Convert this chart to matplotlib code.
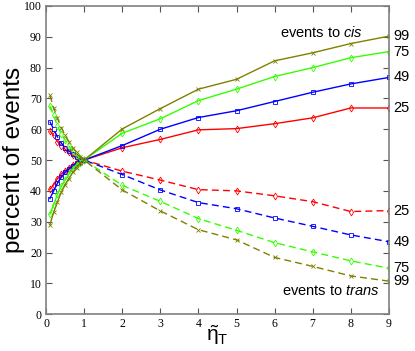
import matplotlib
matplotlib.use("Agg")
import matplotlib.pyplot as plt

plt.rcParams["mathtext.fontset"] = "custom"
plt.rcParams["mathtext.rm"] = "Liberation Sans"
plt.rcParams["mathtext.it"] = "Liberation Sans:italic"
plt.rcParams["mathtext.sf"] = "Liberation Sans"

# x positions: fine steps up to 1, then integers
eta = [0.1, 0.2, 0.3, 0.4, 0.5, 0.6, 0.7, 0.8, 0.9, 1.0, 2, 3, 4, 5, 6, 7, 8, 9]

# events to cis (solid)
cis_25 = [40.5, 42, 44, 45.5, 46.5, 47.5, 48.5, 49, 49.5, 50, 54, 56.7, 59.8, 60.2, 61.8, 63.7, 66.9, 66.9]
cis_49 = [37.5, 40, 42.5, 44.5, 46, 47, 48, 49, 49.5, 50, 54.7, 60, 63.8, 66, 69, 72, 74.7, 76.8]
cis_75 = [32.5, 35.5, 39, 41.5, 43.5, 45.5, 47, 48.5, 49.2, 50, 58.7, 63.4, 69.3, 73, 77.1, 80, 83.2, 85.2]
cis_99 = [29, 33, 36.5, 39.5, 42, 44, 46, 47.5, 49, 50, 60.1, 66.7, 73, 76.2, 82.2, 84.8, 87.8, 90.2]

# events to trans (dashed)
trans_25 = [59.5, 58, 56, 54.5, 53.5, 52.5, 51.5, 51, 50.5, 50, 46.4, 43.5, 40.4, 40, 38.4, 36.5, 33.3, 33.6]
trans_49 = [62.5, 60, 57.5, 55.5, 54, 53, 52, 51, 50.5, 50, 45.3, 40.3, 36.2, 34.2, 31.2, 28.5, 25.7, 23.5]
trans_75 = [67.5, 64.5, 61, 58.5, 56.5, 54.5, 53, 51.5, 50.8, 50, 41.8, 36.6, 31, 27.2, 23.2, 20.2, 17.3, 14.9]
trans_99 = [71, 67, 63.5, 60.5, 58, 56, 54, 52.5, 51, 50, 40.3, 33.5, 27.4, 24.1, 18.4, 15.5, 12.4, 10.7]

labels = ["25", "49", "75", "99"]
colors = ["#ff0000", "#0000ff", "#33ff00", "#808000"]
markers = ["d", "s", "d", "x"]

fig = plt.figure(figsize=(4.15, 3.51), dpi=100)
ax = fig.add_axes([0.111, 0.105, 0.826, 0.878])

for ys, c, m in zip([cis_25, cis_49, cis_75, cis_99], colors, markers):
    ax.plot(eta, ys, color=c, lw=1.0, marker=m, ms=3.5, mfc="none", mew=0.6)
for ys, c, m in zip([trans_25, trans_49, trans_75, trans_99], colors, markers):
    ax.plot(eta, ys, color=c, lw=1.0, ls=(0, (5, 3)), marker=m, ms=3.5, mfc="none", mew=0.6)

ax.set_xlim(0, 9)
ax.set_ylim(0, 100)
ax.set_xticks(range(10))
ax.set_yticks(range(0, 101, 10))
ax.tick_params(direction="in", length=4, width=0.8, color="#555555",
               top=True, right=True, labelsize=8.5, pad=3)
for lab in ax.get_xticklabels() + ax.get_yticklabels():
    lab.set_family("Liberation Serif")
for sp in ax.spines.values():
    sp.set_color("#808080")
    sp.set_linewidth(1.2)

ax.set_ylabel("percent of events", family="Liberation Sans", fontsize=17.5)
ax.yaxis.set_label_coords(-0.061, 0.5)
ax.set_xlabel(r"$\tilde{\mathrm{\eta}}_\mathrm{T}$", fontsize=15)
ax.xaxis.set_label_coords(0.5, -0.028)

# right side labels
for ys, lab in zip([cis_25, cis_49, cis_75, cis_99], labels):
    ax.text(9.12, ys[-1], lab, family="Liberation Sans", fontsize=10.5, va="center", ha="left", clip_on=False)
for ys, lab in zip([trans_25, trans_49, trans_75, trans_99], labels):
    ax.text(9.12, ys[-1], lab, family="Liberation Sans", fontsize=10.5, va="center", ha="left", clip_on=False)

ax.text(8.32, 91.5, "events to $\\mathit{cis}$", family="Liberation Sans", fontsize=10.5, ha="right", va="center")
ax.text(8.77, 7.5, "events to $\\mathit{trans}$", family="Liberation Sans", fontsize=10.5, ha="right", va="center")

fig.savefig("out.png", dpi=100)
